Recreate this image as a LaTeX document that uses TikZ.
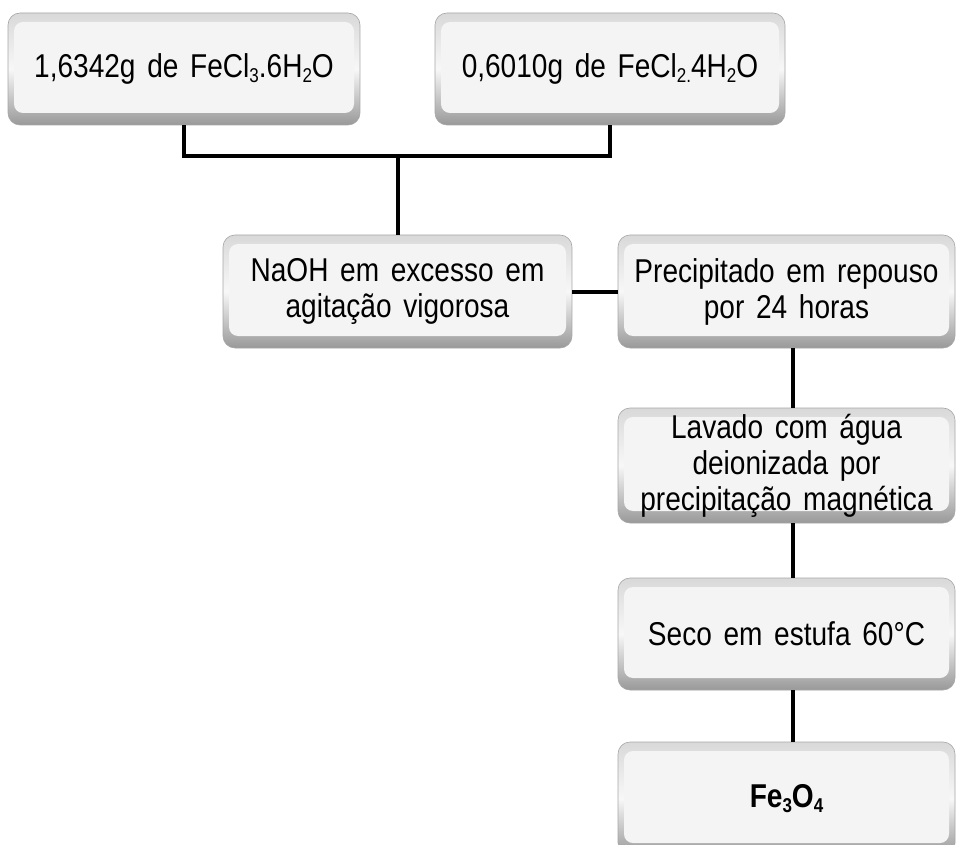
\documentclass[tikz,border=0pt]{standalone}
\usepackage{fontspec}
\setmainfont[FakeStretch=0.85,WordSpace=1.5]{Liberation Sans}
% chemical subscript, set a little lower than \textsubscript
\newcommand{\chsub}[1]{\raisebox{-0.28ex}{\fontsize{20}{20}\selectfont #1}}
\begin{document}
\begin{tikzpicture}[x=1pt,y=-1pt,
  stepbox/.style={rectangle, rounded corners=12pt, draw=gray!70, line width=0.6pt,
    top color=gray!30, bottom color=gray!80, middle color=gray!6,
    path picture={\fill[gray!9, rounded corners=9pt]
      ([xshift=6pt,yshift=-9pt]path picture bounding box.north west) rectangle
      ([xshift=-6pt,yshift=12pt]path picture bounding box.south east);},
    align=center, inner sep=0pt, text=black,
    font=\fontsize{33}{36}\selectfont},
  conn/.style={line width=4pt, black}]
\useasboundingbox (0,0) rectangle (956,845);
\clip (0,0) rectangle (956,845);

% process steps
\node[stepbox, minimum width=352pt, minimum height=112pt] (fecl3) at (184,69)
  {1,6342g de FeCl\chsub{3}.6H\chsub{2}O};
\node[stepbox, minimum width=350pt, minimum height=112pt] (fecl2) at (610,69)
  {0,6010g de FeCl\chsub{2.}4H\chsub{2}O};
\node[stepbox, minimum width=349pt, minimum height=113pt] (naoh) at (397.5,291.5)
  {NaOH em excesso em\\agitação vigorosa};
\node[stepbox, minimum width=337pt, minimum height=113pt] (prec) at (786.5,291.5)
  {Precipitado em repouso\\por 24 horas};
\node[stepbox, minimum width=337pt, minimum height=115pt] (lav) at (786.5,465.5)
  {Lavado com água\\deionizada por\\precipitação magnética};
\node[stepbox, minimum width=337pt, minimum height=112pt] (seco) at (786.5,634)
  {Seco em estufa 60°C};
\node[stepbox, minimum width=337pt, minimum height=113pt] (prod) at (786.5,798.5)
  {\bfseries Fe\chsub{3}O\chsub{4}};

% connectors
\coordinate (join) at (naoh.north |- 0,156);
\draw[conn] (fecl3.south) -- (fecl3.south |- join) -- (fecl2.south |- join) -- (fecl2.south);
\draw[conn] (join) -- (naoh.north);
\draw[conn] (naoh.east) -- (prec.west);
\draw[conn] ([xshift=6pt]prec.south) -- ([xshift=6pt]lav.north);
\draw[conn] ([xshift=6pt]lav.south) -- ([xshift=6pt]seco.north);
\draw[conn] ([xshift=6pt]seco.south) -- ([xshift=6pt]prod.north);
\end{tikzpicture}
\end{document}
